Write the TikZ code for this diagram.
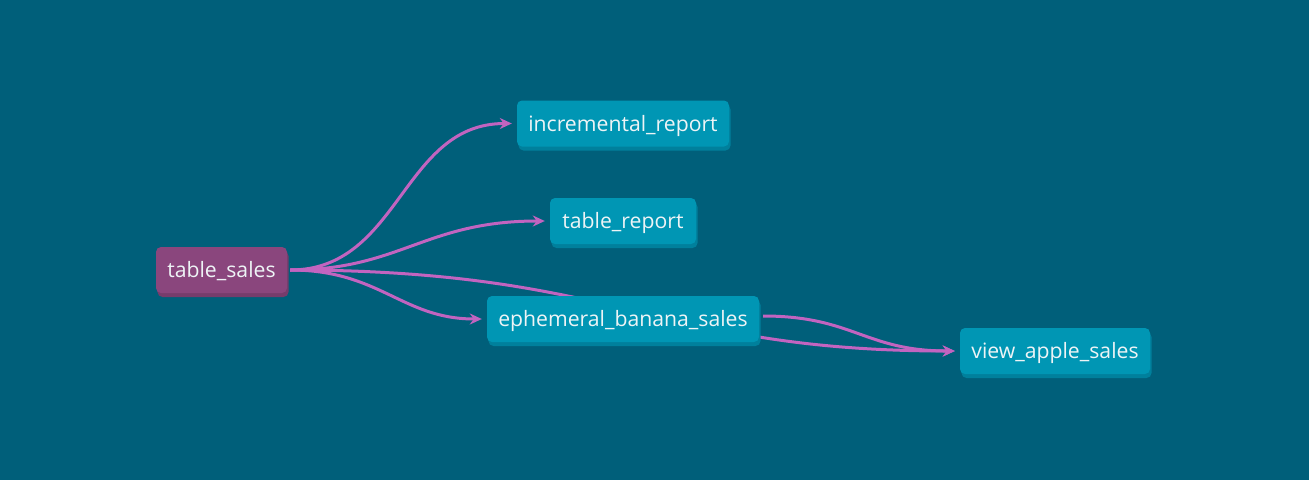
\documentclass[tikz,border=0pt]{standalone}
\usepackage{fontspec}
\setmainfont{Open Sans}
\usetikzlibrary{shadows,arrows.meta}
\pgfdeclarelayer{bottom}
\pgfdeclarelayer{edges}
\pgfsetlayers{bottom,edges,main}
\definecolor{bg}{HTML}{005F7A}
\definecolor{tealnode}{HTML}{0096B4}
\definecolor{tealshadow}{HTML}{00809C}
\definecolor{purplenode}{HTML}{8A467D}
\definecolor{purpleshadow}{HTML}{763C6C}
\definecolor{edgecol}{HTML}{C264C0}
\definecolor{txt}{HTML}{EEF4F6}
\tikzset{
  box/.style={rounded corners=5pt, inner sep=0pt, text=txt,
    font=\fontsize{21.2}{24}\selectfont, minimum height=46pt,
    text height=20pt, text depth=5pt},
  tealbox/.style={box, fill=tealnode,
    drop shadow={shadow xshift=1.5pt, shadow yshift=-4pt, fill=tealshadow, opacity=1}},
  purplebox/.style={box, fill=purplenode,
    drop shadow={shadow xshift=1.5pt, shadow yshift=-4pt, fill=purpleshadow, opacity=1}},
  edge/.style={draw=edgecol, line width=3pt, -{Stealth[length=12pt,width=11pt]}}
}
\begin{document}
\begin{tikzpicture}[x=1pt,y=-1pt]
\begin{pgfonlayer}{bottom}
\fill[bg] (0,0) rectangle (1309,480);
\end{pgfonlayer}
\useasboundingbox (0,0) rectangle (1309,480);
% nodes
\node[purplebox, minimum width=131pt] (ts) at (221.5,270) {table\_sales};
\node[tealbox, minimum width=212pt] (ir) at (623,123.5) {incremental\_report};
\node[tealbox, minimum width=146pt] (tr) at (623,221) {table\_report};
\node[tealbox, minimum width=272pt] (eb) at (623,319) {ephemeral\_banana\_sales};
\node[tealbox, minimum width=190pt] (va) at (1055,351) {view\_apple\_sales};
% connection points
\coordinate (tsout) at ([xshift=3pt]ts.east);
\coordinate (irin) at ([xshift=-5pt]ir.west);
\coordinate (trin) at ([xshift=-5pt]tr.west);
\coordinate (ebin) at ([xshift=-5pt]eb.west);
\coordinate (ebout) at ([xshift=4pt,yshift=3pt]eb.east);
\coordinate (vain) at ([xshift=-5pt]va.west);
% edges (behind nodes)
\begin{pgfonlayer}{edges}
\draw[edge] (tsout) .. controls +(110,0) and +(-110,0) .. (irin);
\draw[edge] (tsout) .. controls +(110,0) and +(-120,0) .. (trin);
\draw[edge] (tsout) .. controls +(90,0) and +(-80,0) .. (ebin);
\draw[edge] (tsout) .. controls +(330,0) and +(-300,0) .. (vain);
\draw[edge] (ebout) .. controls +(90,0) and +(-90,0) .. (vain);
\end{pgfonlayer}
\end{tikzpicture}
\end{document}
